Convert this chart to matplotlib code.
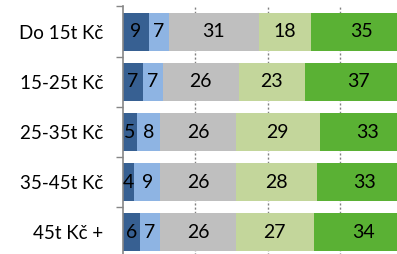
import matplotlib
matplotlib.use("Agg")
import matplotlib.pyplot as plt
import numpy as np

categories = ["Do 15t Kč", "15-25t Kč", "25-35t Kč", "35-45t Kč", "45t Kč +"]
s1 = [9, 7, 5, 4, 6]
s2 = [7, 7, 8, 9, 7]
s3 = [31, 26, 26, 26, 26]
s4 = [18, 23, 29, 28, 27]
s5 = [35, 37, 33, 33, 34]
series = [s1, s2, s3, s4, s5]
colors = ["#376092", "#8EB4E3", "#BFBFBF", "#C3D69B", "#5AB134"]

plt.rcParams['font.family'] = ['Lato', 'DejaVu Sans']

W, H = 397, 254
fig = plt.figure(figsize=(W / 100, H / 100), dpi=100)
x0 = 122.5 / W
wid = 290 / W
ytop = 6.5
ybot = 257.5
ax = fig.add_axes([x0, (H - ybot) / H, wid, (ybot - ytop) / H])

y = np.arange(len(categories))
left = np.zeros(len(categories))
for vals, c in zip(series, colors):
    vals = np.array(vals, dtype=float)
    ax.barh(y, vals, left=left, height=0.76, color=c, zorder=2)
    for yi, (l, v) in enumerate(zip(left, vals)):
        ax.text(l + v / 2, yi, f"{int(v)}", ha="center", va="center",
                fontsize=14, color="black", zorder=3)
    left += vals

ax.set_xlim(0, 100)
ax.set_ylim(len(categories) - 0.5, -0.5)
ax.set_yticks(y)
ax.set_yticklabels(categories, fontsize=13.5)
ax.tick_params(axis="y", which="major", length=0, pad=14)
ax.set_yticks(np.arange(-0.5, len(categories), 1), minor=True)
ax.tick_params(axis="y", which="minor", length=5, color="#868686", width=1)
ax.set_xticks([25, 50, 75, 100])
ax.tick_params(axis="x", length=0, labelbottom=False)
ax.xaxis.grid(True, linestyle=(0, (1.5, 1.5)), color="#808080", linewidth=1, zorder=0)
ax.set_axisbelow(True)
for sp in ["top", "right", "bottom"]:
    ax.spines[sp].set_visible(False)
ax.spines["left"].set_color("#868686")
ax.spines["left"].set_linewidth(1.2)

fig.savefig("out.png", dpi=100)
